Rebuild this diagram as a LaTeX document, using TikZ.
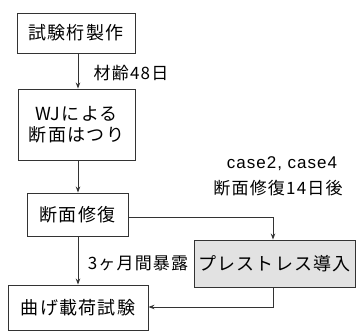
\documentclass[tikz,border=0pt]{standalone}
\usepackage{fontspec}
\setmainfont{Noto Sans CJK JP}[LetterSpace=7]
\newfontfamily\latinsans{Liberation Sans}[LetterSpace=6]
\usetikzlibrary{arrows.meta}
\definecolor{linec}{HTML}{333333}
\definecolor{shade}{HTML}{E2E2E2}
\tikzset{
  box/.style={draw=linec, line width=0.9pt, inner sep=0pt, align=center, font=\fontsize{18}{21}\selectfont},
  lbl/.style={inner sep=0pt, font=\fontsize{17}{20}\selectfont},
  conn/.style={draw=linec, line width=0.9pt, -{Stealth[length=6pt,width=4.5pt]}},
}
\begin{document}
\begin{tikzpicture}[x=1pt,y=-1pt]
\useasboundingbox (0,0) rectangle (356,331);
\node[box, minimum width=118pt, minimum height=40pt] (b1) at (76,33) {試験桁製作};
\node[box, minimum width=117pt, minimum height=71pt] (b2) at (76.5,124.5) {WJによる\\断面はつり};
\node[box, minimum width=101pt, minimum height=43pt] (b3) at (77.5,214.5) {断面修復};
\node[box, fill=shade, minimum width=161pt, minimum height=47pt] (b4) at (274.5,263.5) {プレストレス導入};
\node[box, minimum width=140pt, minimum height=45pt] (b5) at (78,307.5) {曲げ載荷試験};
\coordinate (c1) at (273,217);
\coordinate (c2) at (273,307);
\draw[conn] (b1.south -| 78,0) -- (b2.north -| 78,0);
\draw[conn] (b2.south -| 78,0) -- (b3.north -| 78,0);
\draw[conn] (b3.south -| 78,0) -- (b5.north -| 78,0);
\draw[conn] (b3.east |- c1) -- (c1) -- (b4.north -| c1);
\draw[conn] (b4.south -| c2) -- (c2) -- (b5.east |- c2);
\node[lbl] (l1) at (131,73) {材齢48日};
\node[lbl] (l2) at (138,263) {3ヶ月間暴露};
\node[lbl, font=\latinsans\fontsize{17}{20}\selectfont] (l3) at (282,164) {case2, case4};
\node[lbl] (l4) at (278,188) {断面修復14日後};
\end{tikzpicture}
\end{document}
